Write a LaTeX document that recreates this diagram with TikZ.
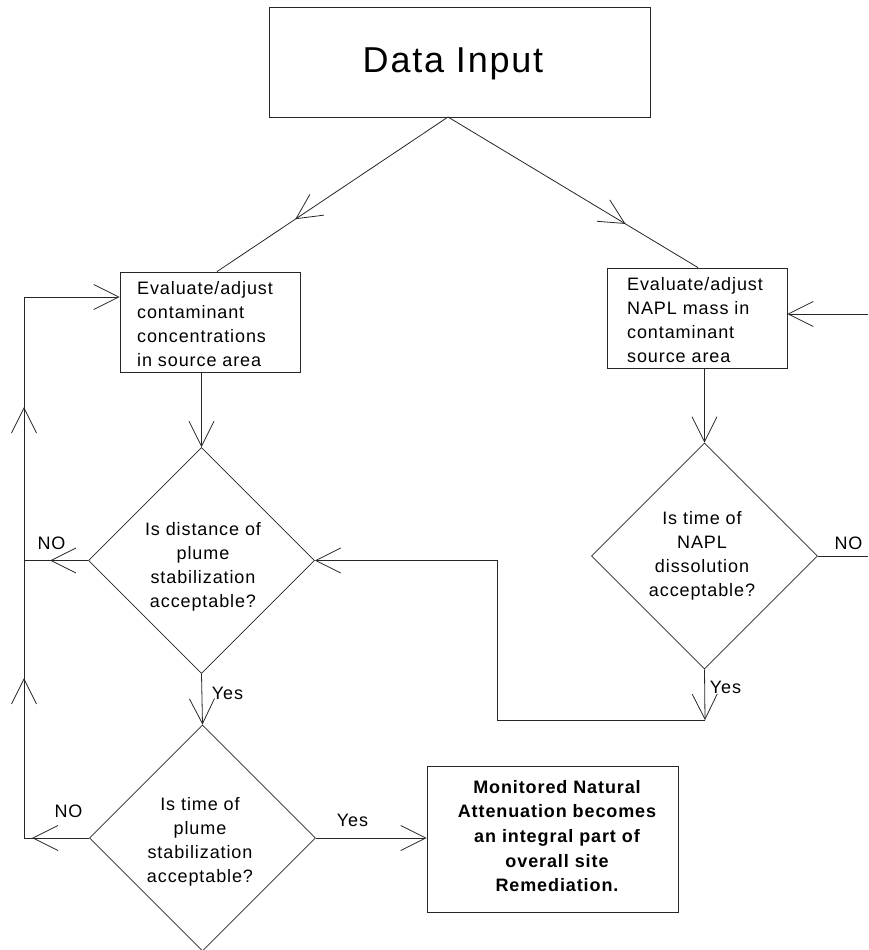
\documentclass[tikz,border=0pt]{standalone}
\usepackage{fontspec}
\setmainfont{Liberation Sans}[LetterSpace=5]
\usetikzlibrary{arrows.meta,shapes.geometric,decorations.markings,calc}
\tikzset{
  >={Straight Barb[length=25pt,width=25pt]},
  ln/.style={draw=black!85, line width=0.8pt},
  boxn/.style={draw=black!85, line width=0.8pt, rectangle, inner sep=0pt},
  dia/.style={draw=black!85, line width=0.8pt, diamond, aspect=1, inner sep=0pt,
              minimum width=226pt, minimum height=226pt},
  txt/.style={font=\fontsize{18}{24}\selectfont, inner sep=0pt},
  lbl/.style={font=\fontsize{18}{22}\selectfont, inner sep=0pt},
  markat/.style={postaction={decorate,decoration={markings,mark=at position #1 with {\arrow{>}}}}}
}
\begin{document}
\begin{tikzpicture}[x=1pt,y=-1pt]
\useasboundingbox (0,0) rectangle (868,950);

% boxes
\node[boxn, minimum width=381pt, minimum height=110pt] (di) at (459.5,62) {};
\node[inner sep=0pt, font=\fontsize{36}{40}\selectfont, anchor=base] (dit) at (453,72) {Data Input};

\node[boxn, minimum width=180pt, minimum height=100pt] (b1) at (210,322) {};
\node[txt, align=left, anchor=west] (b1t) at (137,324) {Evaluate/adjust\\contaminant\\concentrations\\in source area};

\node[boxn, minimum width=180pt, minimum height=100pt] (b2) at (697,318) {};
\node[txt, align=left, anchor=west] (b2t) at (627,320) {Evaluate/adjust\\NAPL mass in\\contaminant\\source area};

\node[boxn, minimum width=251pt, minimum height=146pt] (fb) at (552.5,839) {};
\node[txt, font=\bfseries\fontsize{18}{24.6}\selectfont, align=center] (fbt) at (557,836)
  {Monitored Natural\\Attenuation becomes\\an integral part of\\overall site\\Remediation.};

% diamonds
\node[dia] (d1) at (201.5,560.5) {};
\node[txt, align=center] (d1t) at (203,567) {Is distance of\\plume\\stabilization\\acceptable?};

\node[dia] (d3) at (704.5,556) {};
\node[txt, align=center] (d3t) at (702,556) {Is time of\\NAPL\\dissolution\\acceptable?};

\node[dia] (d2) at (202.5,838) {};
\node[txt, align=center] (d2t) at (200,842) {Is time of\\plume\\stabilization\\acceptable?};

% labels
\node[lbl] (no1) at (51.5,543.5) {NO};
\node[lbl] (no2) at (68.5,811.5) {NO};
\node[lbl] (no3) at (848.5,543.5) {NO};
\node[lbl] (yes1) at (227.5,693.5) {Yes};
\node[lbl] (yes3) at (725.5,687) {Yes};
\node[lbl] (yes2) at (352.5,820) {Yes};

% connectors
\coordinate (apex) at (448,117);
\draw[ln, markat=0.661] (apex) -- ($(b1.north)+(7,0)$);
\draw[ln, markat=0.71] (apex) -- ($(b2.north)+(1,0)$);

\draw[ln,->] (d1.north |- b1.south) -- (d1.north);
\draw[ln,->] (d3.north |- b2.south) -- (d3.north);
\draw[ln,->] (d1.south) -- (d2.north);
\draw[ln,->] (d2.east) -- (d2.east -| fb.west);

\coordinate (c1) at (705,720);
\draw[ln,->] (d3.south) -- (c1);
\draw[ln,->] (c1) -| ($(d1.east)+(182,0)$) -- (d1.east);

\coordinate (lc) at (24,297);
\coordinate (lb) at (24,840);
\draw[ln,->, postaction={decorate,decoration={markings,
   mark=at position 57pt with {\arrow{>}},
   mark=at position 225pt with {\arrow{>}},
   mark=at position 496pt with {\arrow{>}}}}]
  (d2.west) -- (d2.west -| lb) -- (lc) -- (lc -| b1.west);
\draw[ln, markat=38pt] (d1.west) -- (d1.west -| lc);

\coordinate (rn) at (868,558);
\coordinate (rin) at (868,314);
\draw[ln] (d3.east) -- (d3.east -| rn);
\draw[ln,->] (rin) -- (rin -| b2.east);
\end{tikzpicture}
\end{document}
